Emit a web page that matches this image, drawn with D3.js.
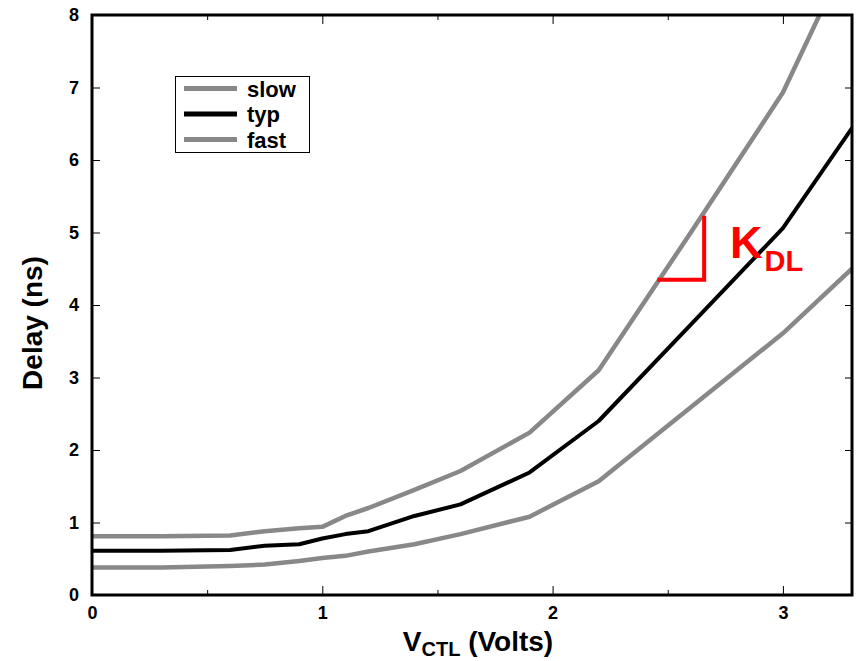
<!DOCTYPE html>
<html>
<head>
<meta charset="utf-8">
<script src="https://cdn.jsdelivr.net/npm/d3@7"></script>
<style>
  html, body { margin: 0; padding: 0; background: #fff; }
  svg text { font-family: "Liberation Sans", Arial, sans-serif; font-weight: bold; }
</style>
</head>
<body>
<svg id="chart" width="856" height="661"></svg>
<script>
// Control voltage sweep (Volts) and delay per corner (ns)
const volts = [0, 0.3, 0.6, 0.75, 0.9, 1.0, 1.1, 1.2, 1.4, 1.6, 1.9, 2.2, 2.6, 3.0, 3.3];
const slowDelay = [0.81, 0.81, 0.82, 0.88, 0.92, 0.94, 1.09, 1.20, 1.45, 1.71, 2.24, 3.10, 5.00, 6.93, 8.95];
const typDelay  = [0.61, 0.61, 0.62, 0.68, 0.70, 0.78, 0.84, 0.88, 1.09, 1.25, 1.69, 2.40, 3.73, 5.06, 6.44];
const fastDelay = [0.38, 0.38, 0.40, 0.42, 0.47, 0.51, 0.54, 0.60, 0.70, 0.84, 1.08, 1.57, 2.59, 3.61, 4.50];

const seriesNames = ["slow", "typ", "fast"];
const seriesColors = ["#888888", "#000000", "#888888"];
const seriesValues = [slowDelay, typDelay, fastDelay];

const xTicksMajor = [0, 1, 2, 3];
const xTicksMinor = [0.5, 1.5, 2.5];
const yTicks = [0, 1, 2, 3, 4, 5, 6, 7, 8];

// Slope marker (gain K_DL) drawn against the slow curve
const slopeRun = [2.455, 2.658];
const slopeRise = [4.35, 5.23];

const svg = d3.select("#chart");
const plotLeft = 92, plotRight = 852, plotTop = 15, plotBottom = 595;

const x = d3.scaleLinear().domain([0, 3.3]).range([plotLeft, plotRight]);
const y = d3.scaleLinear().domain([0, 8]).range([plotBottom, plotTop]);

svg.append("defs").append("clipPath").attr("id", "plotClip")
  .append("rect").attr("x", plotLeft).attr("y", plotTop)
  .attr("width", plotRight - plotLeft).attr("height", plotBottom - plotTop);

// Axes with inward ticks
const gx = svg.append("g").attr("transform", `translate(0,${plotBottom})`)
  .call(d3.axisBottom(x).tickValues(xTicksMajor).tickFormat(d3.format("d"))
    .tickSizeInner(-9).tickSizeOuter(0).tickPadding(11));
svg.append("g").attr("transform", `translate(0,${plotBottom})`)
  .call(d3.axisBottom(x).tickValues(xTicksMinor).tickFormat("")
    .tickSizeInner(-5).tickSizeOuter(0));
svg.append("g").attr("transform", `translate(0,${plotTop})`)
  .call(d3.axisTop(x).tickValues(xTicksMajor).tickFormat("")
    .tickSizeInner(-9).tickSizeOuter(0));
svg.append("g").attr("transform", `translate(0,${plotTop})`)
  .call(d3.axisTop(x).tickValues(xTicksMinor).tickFormat("")
    .tickSizeInner(-5).tickSizeOuter(0));
const gy = svg.append("g").attr("transform", `translate(${plotLeft},0)`)
  .call(d3.axisLeft(y).tickValues(yTicks).tickFormat(d3.format("d"))
    .tickSizeInner(-8).tickSizeOuter(0).tickPadding(13));
svg.append("g").attr("transform", `translate(${plotRight},0)`)
  .call(d3.axisRight(y).tickValues(yTicks).tickFormat("")
    .tickSizeInner(-7).tickSizeOuter(0));

svg.selectAll(".domain").remove();
svg.selectAll(".tick line").attr("stroke", "#000").attr("stroke-width", 1);
gx.selectAll(".tick text").attr("font-size", 18).attr("fill", "#000");
gy.selectAll(".tick text").attr("font-size", 18).attr("fill", "#000");

// Curves
const line = d3.line().x((d, i) => x(volts[i])).y(d => y(d));
const curves = svg.append("g").attr("clip-path", "url(#plotClip)");
seriesValues.forEach((vals, k) => {
  curves.append("path").datum(vals)
    .attr("d", line)
    .attr("fill", "none")
    .attr("stroke", seriesColors[k])
    .attr("stroke-width", k === 1 ? 4 : 4.5)
    .attr("stroke-linejoin", "round");
});

// Plot frame
svg.append("rect").attr("x", plotLeft).attr("y", plotTop)
  .attr("width", plotRight - plotLeft).attr("height", plotBottom - plotTop)
  .attr("fill", "none").attr("stroke", "#000").attr("stroke-width", 3);

// Slope marker
svg.append("path")
  .attr("d", `M${x(slopeRun[0])},${y(slopeRise[0])}H${x(slopeRun[1])}V${y(slopeRise[1])}`)
  .attr("fill", "none").attr("stroke", "#ff0000").attr("stroke-width", 4);
const kdl = svg.append("text").attr("x", 730).attr("y", 258)
  .attr("fill", "#ff0000").attr("font-size", 45);
kdl.append("tspan").text("K");
kdl.append("tspan").attr("font-size", 29).attr("dy", 12.5).attr("dx", 2).text("DL");

// Legend
const legend = svg.append("g");
legend.append("rect").attr("x", 175.5).attr("y", 76.5).attr("width", 134).attr("height", 76)
  .attr("fill", "#fff").attr("stroke", "#000").attr("stroke-width", 1);
seriesNames.forEach((name, k) => {
  const ly = 88.5 + k * 25.5;
  legend.append("line").attr("x1", 184).attr("x2", 237).attr("y1", ly).attr("y2", ly)
    .attr("stroke", seriesColors[k]).attr("stroke-width", 5);
  legend.append("text").attr("x", 247).attr("y", ly + 8).attr("font-size", 22)
    .attr("fill", "#000").text(name);
});

// Axis titles
const xt = svg.append("text").attr("x", 478).attr("y", 651)
  .attr("text-anchor", "middle").attr("font-size", 28).attr("fill", "#000");
xt.append("tspan").text("V");
xt.append("tspan").attr("font-size", 20).attr("dy", 5).text("CTL");
xt.append("tspan").attr("dy", -5).text(" (Volts)");

svg.append("text")
  .attr("transform", "translate(42,323) rotate(-90)")
  .attr("text-anchor", "middle").attr("font-size", 28).attr("fill", "#000")
  .text("Delay (ns)");
</script>
</body>
</html>
